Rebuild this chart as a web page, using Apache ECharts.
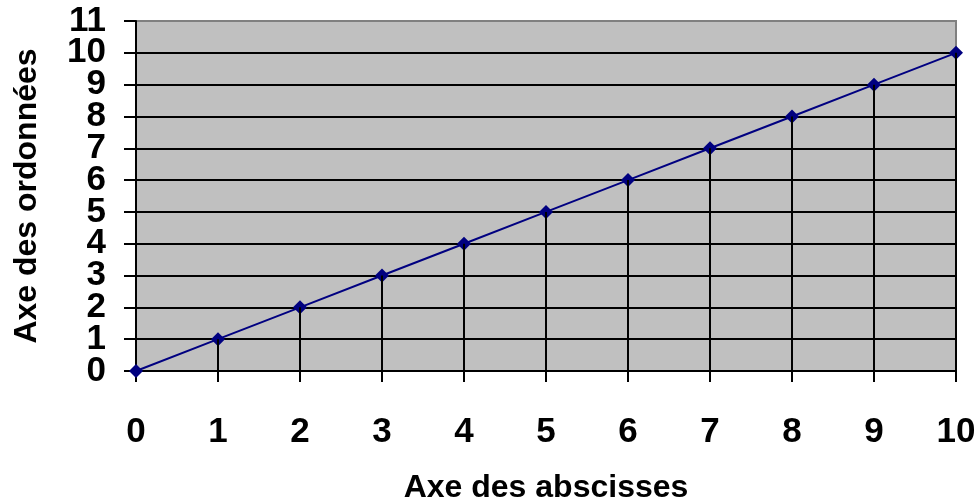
<!DOCTYPE html>
<html>
<head>
<meta charset="utf-8">
<script src="https://cdn.jsdelivr.net/npm/echarts@6/dist/echarts.min.js"></script>
<style>
  html, body { margin: 0; padding: 0; background: #fff; }
  #chart { width: 980px; height: 503px; }
</style>
</head>
<body>
<div id="chart"></div>
<script>
// values
var xValues = [0, 1, 2, 3, 4, 5, 6, 7, 8, 9, 10];
var yValues = [0, 1, 2, 3, 4, 5, 6, 7, 8, 9, 10];
var yTicks = [0, 1, 2, 3, 4, 5, 6, 7, 8, 9, 10, 11];
var xTitle = "Axe des abscisses";
var yTitle = "Axe des ordonnées";

var points = xValues.map(function (x, i) { return [x, yValues[i]]; });
// drop lines from each point down to the x axis
var drops = xValues.map(function (x, i) {
  return [{ coord: [x, 0] }, { coord: [x, yValues[i]] }];
});
// the labels are taller than the row spacing, so echarts would hide some;
// split them on two stacked axes (even / odd)
var evenTicks = yTicks.filter(function (v) { return v % 2 === 0; });
var oddTicks = yTicks.filter(function (v) { return v % 2 === 1; });
// top gridline is the grey plot border
var gridColors = yTicks.map(function (v, i) { return i === yTicks.length - 1 ? "#808080" : "#000"; });

var chart = echarts.init(document.getElementById("chart"));
var font = "'Liberation Sans', Arial, sans-serif";
var labelStyle = { fontFamily: font, fontWeight: "bold", fontSize: 35, color: "#000" };

chart.setOption({
  animation: false,
  grid: {
    left: 136, right: 24, top: 21, bottom: 132,
    outerBoundsMode: "none",
    containLabel: false,
    show: true,
    backgroundColor: "#C0C0C0",
    borderColor: "#808080",
    borderWidth: 2
  },
  xAxis: {
    type: "value",
    min: 0, max: 10, interval: 1,
    name: xTitle,
    nameLocation: "middle",
    nameGap: 101,
    nameTextStyle: { fontFamily: font, fontWeight: "bold", fontSize: 32, color: "#000" },
    axisLine: { show: true, onZero: false, lineStyle: { color: "#000", width: 2 } },
    axisTick: { show: true, inside: false, length: 11, lineStyle: { color: "#000", width: 2 } },
    splitLine: { show: false },
    axisLabel: Object.assign({ margin: 44, showMinLabel: true, showMaxLabel: true }, labelStyle)
  },
  yAxis: [
    {
      type: "value",
      position: "left",
      min: 0, max: 11, interval: 1,
      name: yTitle,
      nameLocation: "middle",
      nameGap: 93,
      nameTextStyle: { fontFamily: font, fontWeight: "bold", fontSize: 32, color: "#000" },
      axisLine: { show: true, onZero: false, lineStyle: { color: "#000", width: 2 } },
      axisTick: { show: true, inside: false, length: 12, lineStyle: { color: "#000", width: 2 } },
      splitLine: { show: true, lineStyle: { color: gridColors, width: 2 } },
      axisLabel: Object.assign({ margin: 30, customValues: evenTicks }, labelStyle)
    },
    {
      type: "value",
      position: "left",
      offset: 0,
      min: 0, max: 11, interval: 1,
      axisLine: { show: false },
      axisTick: { show: false },
      splitLine: { show: false },
      axisLabel: Object.assign({ margin: 30, customValues: oddTicks }, labelStyle)
    }
  ],
  series: [
    {
      type: "line",
      data: [],
      silent: true,
      z: 1,
      markLine: {
        silent: true,
        symbol: ["none", "none"],
        label: { show: false },
        lineStyle: { color: "#000", width: 2, type: "solid" },
        data: drops
      }
    },
    {
      type: "line",
      data: points,
      z: 3,
      symbol: "diamond",
      symbolSize: 14,
      lineStyle: { color: "#000080", width: 2 },
      itemStyle: { color: "#000080" }
    }
  ]
});
</script>
</body>
</html>
